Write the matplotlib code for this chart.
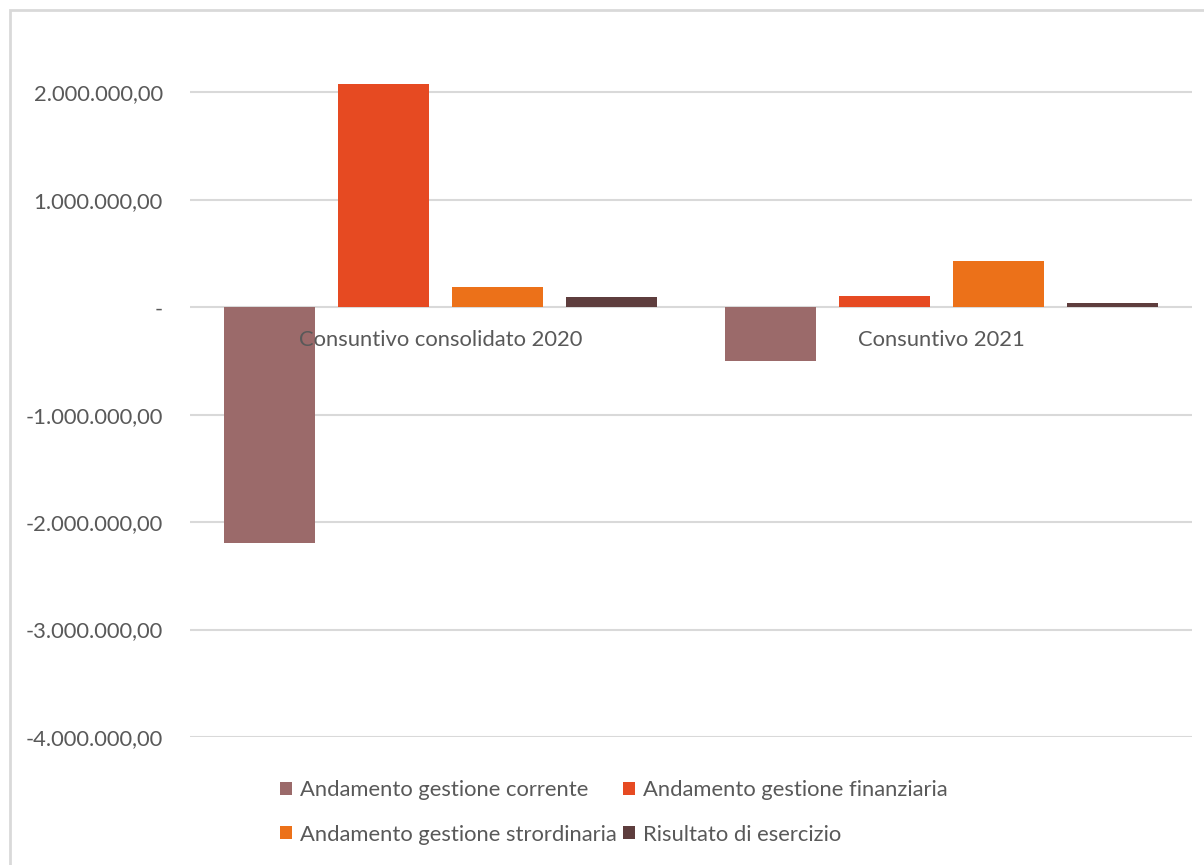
import matplotlib.pyplot as plt
import numpy as np
from matplotlib.patches import Rectangle
from matplotlib.ticker import FuncFormatter

plt.rcParams['font.family'] = ['Lato', 'DejaVu Sans']

# Dati
categorie = ['Consuntivo consolidato 2020', 'Consuntivo 2021']
serie = ['Andamento gestione corrente', 'Andamento gestione finanziaria',
         'Andamento gestione strordinaria', 'Risultato di esercizio']
corrente = [-2190000, -503000]
finanziaria = [2076000, 102000]
strordinaria = [186000, 428000]
risultato = [93000, 37000]
colori = ['#9B6A6A', '#E64A22', '#EC7119', '#5E3D3D']

valori = [corrente, finanziaria, strordinaria, risultato]
grigio = '#595959'
fs = 15.8

fig = plt.figure(figsize=(12.04, 8.65), dpi=100)
ax = fig.add_axes([190 / 1204, 1 - 737 / 865, (1192 - 190) / 1204, (737 - 28) / 865])

# bordo del grafico (tagliato a destra e in basso)
fig.patches.append(Rectangle((10 / 1204, -0.1), 1.2, (865 - 10) / 865 + 0.1,
                             transform=fig.transFigure, fill=False,
                             edgecolor='#d9d9d9', linewidth=2, zorder=0))

x = np.arange(len(categorie))
larghezza = 0.182
passo = 0.228
bars = []
for i, (vals, col, nome) in enumerate(zip(valori, colori, serie)):
    b = ax.bar(x + (i - 1.5) * passo, vals, width=larghezza, color=col, label=nome, zorder=3)
    bars.append(b)

ax.set_xlim(-0.5, 1.5)
ax.set_ylim(-4000000, 2600000)
ax.set_yticks(np.arange(-4000000, 2000001, 1000000))


def formato(v, pos):
    if v == 0:
        return '-'
    s = f'{abs(v):,.2f}'.replace(',', 'X').replace('.', ',').replace('X', '.')
    return ('-' if v < 0 else '') + s


ax.yaxis.set_major_formatter(FuncFormatter(formato))
ax.tick_params(axis='y', length=0, pad=19.5, labelsize=fs, labelcolor=grigio)
ax.set_xticks([])
ax.grid(axis='y', color='#d9d9d9', linewidth=1.5, zorder=0)
for s in ax.spines.values():
    s.set_visible(False)

# etichette delle categorie vicino all'asse
for xi, c in zip(x, categorie):
    ax.annotate(c, (xi, 0), xytext=(0, -23.5), textcoords='offset points',
                ha='center', va='center', fontsize=fs, color=grigio, zorder=4)

handles = [bars[0], bars[2], bars[1], bars[3]]
labels = [serie[0], serie[2], serie[1], serie[3]]
fig.legend(handles, labels, ncol=2, loc='center', bbox_to_anchor=(614 / 1204, 1 - 812.5 / 865),
           frameon=False, fontsize=fs, labelcolor=grigio, handlelength=0.55, handleheight=0.55,
           handletextpad=0.35, columnspacing=0.3, labelspacing=1.1)

plt.savefig('out.png', dpi=100)
